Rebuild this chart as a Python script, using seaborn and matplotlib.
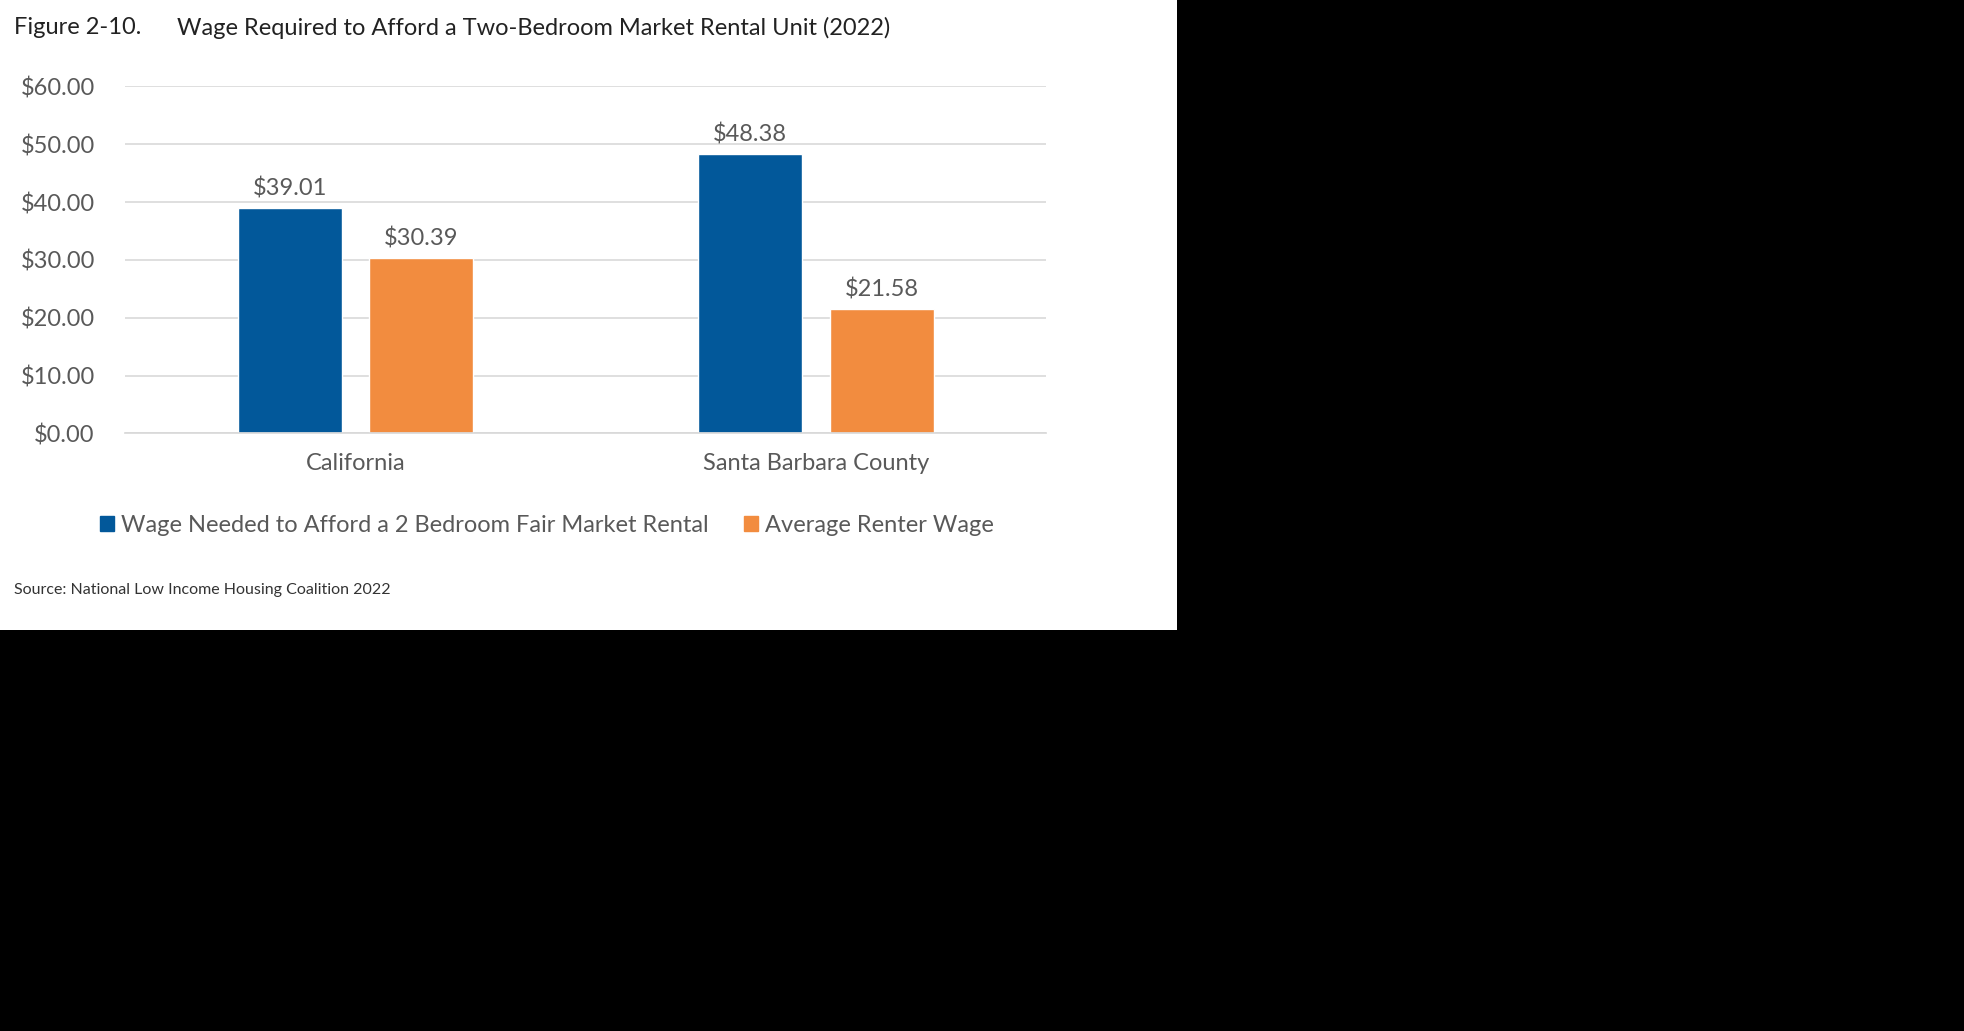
import matplotlib
matplotlib.use("Agg")
import matplotlib.pyplot as plt
import matplotlib.patches as mpatches
import seaborn as sns
import pandas as pd

sns.set_theme(style="white")
plt.rcParams['font.family'] = ['Lato', 'DejaVu Sans']

regions = ['California', 'Santa Barbara County']
series = ['Wage Needed to Afford a 2 Bedroom Fair Market Rental', 'Average Renter Wage']
wage_needed = [39.01, 48.38]
renter_wage = [30.39, 21.58]
colors = ['#02589A', '#F28C3F']
gray = '#595959'

df = pd.DataFrame({
    'Region': regions * 2,
    'Series': [series[0]] * 2 + [series[1]] * 2,
    'Wage': wage_needed + renter_wage,
})

fig = plt.figure(figsize=(19.64, 10.31), dpi=100, facecolor='black')
# white panel behind the chart; the rest of the canvas stays black
fig.patches.append(mpatches.Rectangle((0, 1 - 0.611), 0.5995, 0.611, transform=fig.transFigure,
                                      facecolor='white', edgecolor='none', zorder=-5))
ax = fig.add_axes([0.0638, 0.5796, 0.4687, 0.3366])
ax.set_zorder(2)
ax.set_facecolor('white')

sns.barplot(data=df, x='Region', y='Wage', hue='Series', palette=colors,
            width=0.572, gap=0.21, ax=ax, legend=False, saturation=1)

for c in ax.containers:
    ax.bar_label(c, labels=[f'${v:.2f}' for v in c.datavalues], padding=6,
                 fontsize=17, color=gray)

ax.set_ylim(0, 60)
ax.set_xlim(-0.5, 1.5)
ax.set_yticks(range(0, 61, 10))
ax.set_yticklabels([f'${v:.2f}' for v in range(0, 61, 10)])
ax.yaxis.grid(True, color='#d9d9d9', linewidth=1.2)
ax.set_axisbelow(True)
for s in ['top', 'right', 'left']:
    ax.spines[s].set_visible(False)
ax.spines['bottom'].set_color('#d9d9d9')
ax.tick_params(axis='y', labelsize=17, labelcolor=gray, length=0, pad=22)
ax.tick_params(axis='x', labelsize=17, labelcolor=gray, length=0, pad=14)
ax.set_xlabel('')
ax.set_ylabel('')

handles = [mpatches.Patch(color=c, label=s) for c, s in zip(colors, series)]
fig.legend(handles=handles, loc='center', bbox_to_anchor=(0.2785, 0.49), ncol=2,
           frameon=False, fontsize=17, labelcolor=gray, handlelength=0.6,
           handleheight=0.6, handletextpad=0.3, columnspacing=1.5)

fig.text(0.007, 0.973, 'Figure 2-10.', fontsize=17, color='#222222', va='center')
fig.text(0.09, 0.973, 'Wage Required to Afford a Two-Bedroom Market Rental Unit (2022)',
         fontsize=17, color='#222222', va='center')
fig.text(0.007, 0.428, 'Source: National Low Income Housing Coalition 2022',
         fontsize=11.5, color='#333333', va='center')

fig.savefig('out.png', dpi=100, facecolor='black')
